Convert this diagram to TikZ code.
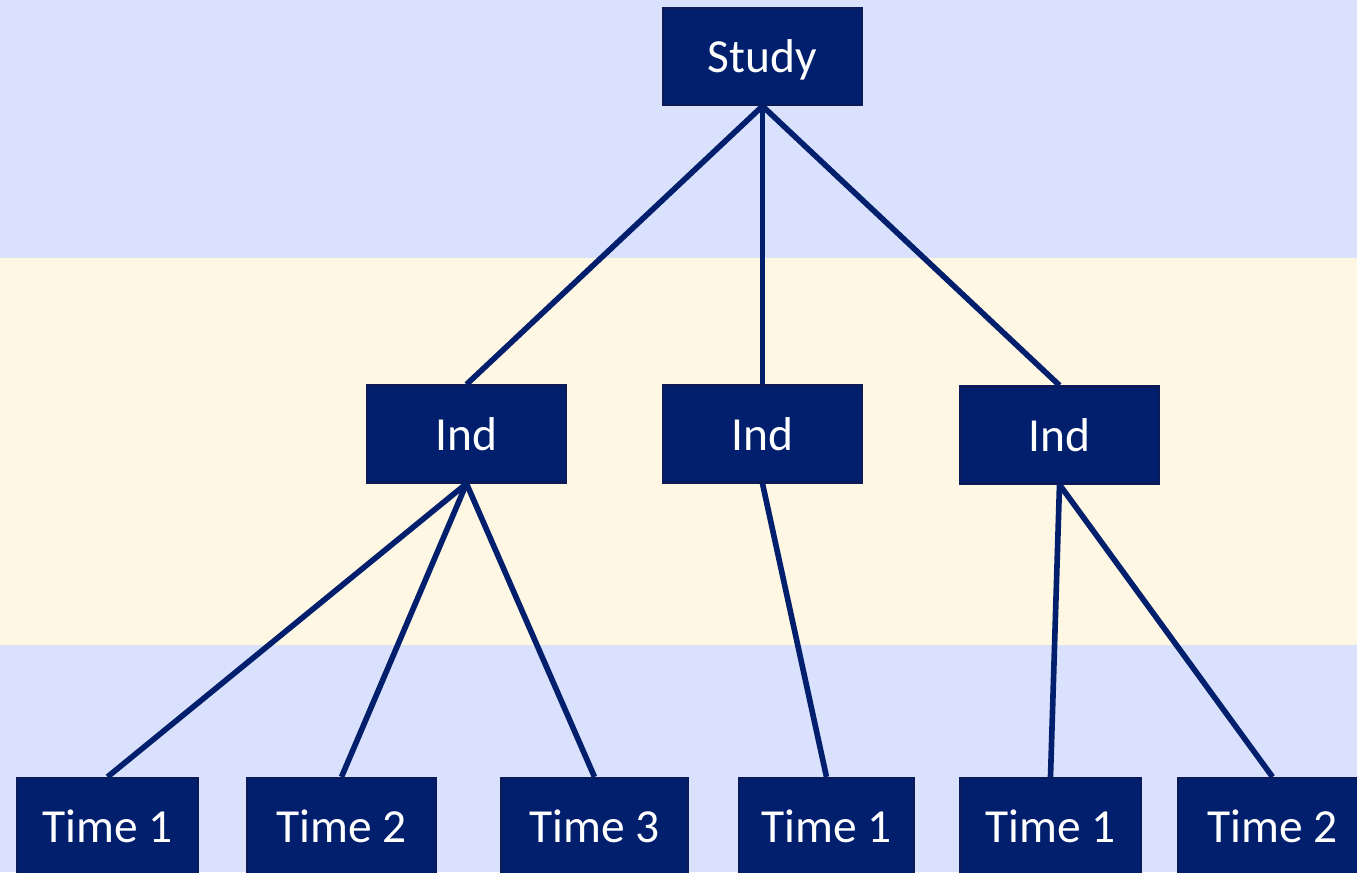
\documentclass[tikz,border=0pt]{standalone}
\usepackage{fontspec}
\setmainfont{Carlito}
\usetikzlibrary{positioning}

\definecolor{bandblue}{HTML}{DAE1FD}
\definecolor{bandcream}{HTML}{FEF7E3}
\definecolor{boxnavy}{HTML}{021F6E}
\definecolor{boxedge}{HTML}{0B1B5A}

\begin{document}
\begin{tikzpicture}[x=0.01cm, y=-0.01cm,
    every node/.style={rectangle, draw=boxedge, fill=boxnavy, text=white, line width=0.6pt,
      minimum height=0.97cm, inner sep=0pt, text height=1.12em, text depth=0.2em,
      font=\fontsize{13.5}{16}\selectfont},
    link/.style={draw=boxnavy, line width=1.6pt}]

        % Background bands
        \clip (0,0) rectangle (1357,872);
        \fill[bandblue] (0,0) rectangle (1357,258);
        \fill[bandcream] (0,258) rectangle (1357,645);
        \fill[bandblue] (0,645) rectangle (1357,872);

        % Study level
        \node[minimum width=1.99cm] (study) at (762.5,56.5) {Study};

        % Individual level
        \node[minimum width=1.99cm] (ind1) at (466.5,434) {Ind};
        \node[minimum width=1.99cm] (ind2) at (762.5,434) {Ind};
        \node[minimum width=1.99cm] (ind3) at (1059.5,435) {Ind};

        % Time level
        \node[minimum width=1.81cm] (t11) at (107.5,826.5) {Time 1};
        \node[minimum width=1.89cm] (t12) at (341.5,826.5) {Time 2};
        \node[minimum width=1.87cm] (t13) at (594.5,826.5) {Time 3};
        \node[minimum width=1.75cm] (t21) at (826.5,826.5) {Time 1};
        \node[minimum width=1.81cm] (t31) at (1050.5,826.5) {Time 1};
        \node[minimum width=1.89cm] (t32) at (1272.5,826.5) {Time 2};

        % Links between levels
        \foreach \i in {1,2,3} {
          \draw[link] (study.south) -- (ind\i.north);
        }
        \foreach \j in {1,2,3} {
          \draw[link] (ind1.south) -- (t1\j.north);
        }
        \draw[link] (ind2.south) -- (t21.north);
        \foreach \j in {1,2} {
          \draw[link] (ind3.south) -- (t3\j.north);
        }

\end{tikzpicture}
\end{document}
